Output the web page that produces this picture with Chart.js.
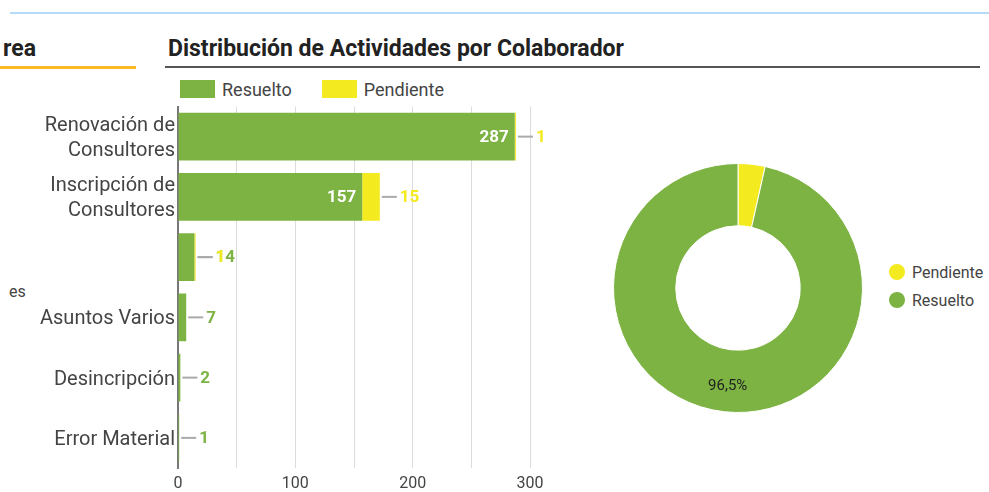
<!DOCTYPE html>
<html lang="es">
<head>
    <meta charset="UTF-8">
    <meta name="viewport" content="width=device-width, initial-scale=1.0">
    <title>Distribución de Actividades por Colaborador</title>
    <script src="https://cdn.jsdelivr.net/npm/chart.js"></script>
    <style>
        body { margin: 0; width: 989px; height: 492px; background: #fff; position: relative; overflow: hidden; font-family: Roboto, sans-serif; }
        .top-line { position: absolute; left: 10px; right: 0; top: 12px; height: 2px; background: #b5dbf8; }
        .panel-title { position: absolute; top: 35px; font-size: 23px; font-weight: bold; color: #222; white-space: nowrap; }
        .panel-rule { position: absolute; top: 66px; }
        .side-label { position: absolute; left: 9px; top: 282px; font-size: 16px; color: #444; }
        #barLegend { position: absolute; left: 180px; top: 80px; display: flex; font-size: 18px; color: #444; }
        #barLegend .item { display: flex; align-items: center; margin-right: 30px; height: 18px; }
        #barLegend .box { width: 35px; height: 18px; margin-right: 7px; }
        #barWrap { position: absolute; left: 0; top: 91px; width: 580px; height: 405px; }
        #pieWrap { position: absolute; left: 613px; top: 163px; width: 250px; height: 250px; }
        #pieLegend { position: absolute; left: 889px; top: 262px; font-size: 16px; color: #444; }
        #pieLegend .item { display: flex; align-items: center; height: 20px; margin-bottom: 8px; }
        #pieLegend .dot { width: 16px; height: 16px; border-radius: 50%; margin-right: 7px; }
    </style>
</head>
<body>
    <div class="top-line"></div>

    <!-- panel on the left, mostly out of view -->
    <div class="panel-title" style="left:3px;">rea</div>
    <div class="panel-rule" style="left:0; width:136px; height:3px; background:#fbb924;"></div>
    <div class="side-label">es</div>

    <!-- Actividades panel -->
    <div class="panel-title" style="left:168px;">Distribución de Actividades por Colaborador</div>
    <div class="panel-rule" style="left:165px; right:9px; height:2px; background:#555;"></div>

    <div id="barLegend"></div>
    <div id="barWrap"><canvas id="barChart"></canvas></div>
    <div id="pieWrap"><canvas id="pieChart"></canvas></div>
    <div id="pieLegend"></div>

    <script>
        var categories = [['Renovación de', 'Consultores'], ['Inscripción de', 'Consultores'], '', 'Asuntos Varios', 'Desincripción', 'Error Material'];
        var resuelto = [287, 157, 14, 7, 2, 1];
        var pendiente = [1, 15, 1, 0, 0, 0];
        var xTicks = [0, 100, 200, 300];
        var estados = ['Pendiente', 'Resuelto'];

        var GREEN = '#7cb342';
        var YELLOW = '#f3ea1f';

        Chart.defaults.font.family = 'Roboto, sans-serif';
        Chart.defaults.color = '#444';

        function sum(arr) {
            return arr.reduce(function (a, b) { return a + b; }, 0);
        }

        // value labels: white inside the bar when it fits, otherwise after the stack with a small stem
        var barLabels = {
            id: 'barLabels',
            afterDatasetsDraw: function (chart) {
                var ctx = chart.ctx;
                var sets = chart.data.datasets;
                ctx.save();
                ctx.font = 'bold 17px Roboto';
                ctx.textBaseline = 'middle';
                chart.data.labels.forEach(function (lbl, i) {
                    var stackEnd = 0;
                    sets.forEach(function (ds, d) {
                        var el = chart.getDatasetMeta(d).data[i];
                        stackEnd = Math.max(stackEnd, el.x);
                    });
                    sets.forEach(function (ds, d) {
                        var v = ds.data[i];
                        if (!v) return;
                        var bar = chart.getDatasetMeta(d).data[i];
                        var text = String(v);
                        var w = ctx.measureText(text).width;
                        if (bar.x - bar.base >= w + 14) {
                            ctx.fillStyle = '#fff';
                            ctx.textAlign = 'right';
                            ctx.fillText(text, bar.x - 6, bar.y + 1);
                        } else {
                            var x0 = stackEnd + 2;
                            ctx.strokeStyle = '#aaa';
                            ctx.lineWidth = 2;
                            ctx.beginPath();
                            ctx.moveTo(x0, bar.y);
                            ctx.lineTo(x0 + 15, bar.y);
                            ctx.stroke();
                            ctx.fillStyle = ds.backgroundColor;
                            ctx.textAlign = 'left';
                            ctx.fillText(text, x0 + 18, bar.y + 1);
                        }
                    });
                });
                ctx.restore();
            }
        };

        var barChart = new Chart(document.getElementById('barChart'), {
            type: 'bar',
            data: {
                labels: categories,
                datasets: [
                    { label: 'Resuelto', data: resuelto, backgroundColor: GREEN, categoryPercentage: 1, barPercentage: 0.79 },
                    { label: 'Pendiente', data: pendiente, backgroundColor: YELLOW, categoryPercentage: 1, barPercentage: 0.79 }
                ]
            },
            options: {
                indexAxis: 'y',
                responsive: true,
                maintainAspectRatio: false,
                animation: false,
                layout: { padding: { top: 7, left: 0, right: 50, bottom: 0 } },
                plugins: { legend: { display: false }, tooltip: { enabled: true } },
                scales: {
                    x: {
                        stacked: true,
                        min: 0,
                        max: 300,
                        afterFit: function (scale) { scale.height = 27; },
                        grid: { color: '#dcdcdc', lineWidth: 1, drawTicks: false },
                        border: { display: false },
                        ticks: {
                            stepSize: 50,
                            padding: 6,
                            color: '#444',
                            font: { size: 16 },
                            callback: function (value) { return xTicks.indexOf(value) >= 0 ? value : ''; }
                        }
                    },
                    y: {
                        stacked: true,
                        afterFit: function (scale) { scale.width = 178; },
                        grid: { display: false, drawTicks: false },
                        border: { display: true, color: '#777', width: 2 },
                        ticks: { padding: 3, labelOffset: 2, color: '#444', font: { size: 20, lineHeight: 1.25 } }
                    }
                }
            },
            plugins: [barLabels]
        });

        // percentage written in the middle of the ring for the large slice
        var sliceLabels = {
            id: 'sliceLabels',
            afterDatasetsDraw: function (chart) {
                var ctx = chart.ctx;
                var data = chart.data.datasets[0].data;
                var total = sum(data);
                ctx.save();
                ctx.font = '15px Roboto';
                ctx.fillStyle = '#222';
                ctx.textAlign = 'center';
                ctx.textBaseline = 'middle';
                chart.getDatasetMeta(0).data.forEach(function (arc, i) {
                    var pct = data[i] / total * 100;
                    if (pct < 10) return;
                    var p = arc.tooltipPosition();
                    ctx.fillText(pct.toFixed(1).replace('.', ',') + '%', p.x, p.y + 5);
                });
                ctx.restore();
            }
        };

        var pieChart = new Chart(document.getElementById('pieChart'), {
            type: 'doughnut',
            data: {
                labels: estados,
                datasets: [{
                    data: [sum(pendiente), sum(resuelto)],
                    backgroundColor: [YELLOW, GREEN],
                    borderColor: '#fff',
                    borderWidth: 1
                }]
            },
            options: {
                responsive: true,
                maintainAspectRatio: false,
                animation: false,
                cutout: '50%',
                plugins: { legend: { display: false } }
            },
            plugins: [sliceLabels]
        });

        // html legends built from the chart datasets
        var barLegend = document.getElementById('barLegend');
        barChart.data.datasets.forEach(function (ds) {
            var item = document.createElement('div');
            item.className = 'item';
            item.innerHTML = '<span class="box" style="background:' + ds.backgroundColor + '"></span>' + ds.label;
            barLegend.appendChild(item);
        });

        var pieLegend = document.getElementById('pieLegend');
        pieChart.data.labels.forEach(function (name, i) {
            var item = document.createElement('div');
            item.className = 'item';
            item.innerHTML = '<span class="dot" style="background:' + pieChart.data.datasets[0].backgroundColor[i] + '"></span>' + name;
            pieLegend.appendChild(item);
        });
    </script>
</body>
</html>
